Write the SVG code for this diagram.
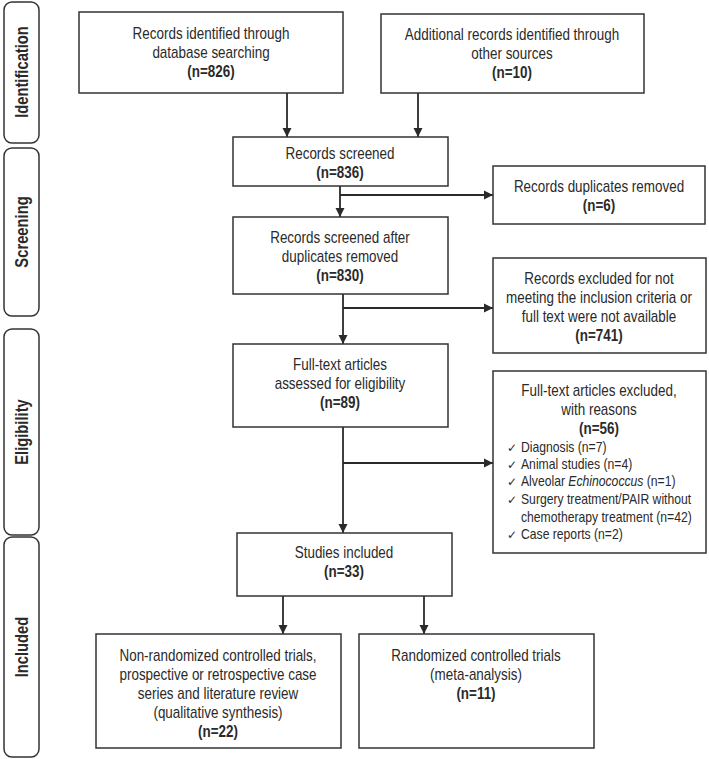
<svg xmlns="http://www.w3.org/2000/svg" width="709" height="759" viewBox="0 0 709 759">
<defs>
<marker id="ah" markerWidth="10" markerHeight="10" refX="9" refY="5" orient="auto" markerUnits="userSpaceOnUse">
<path d="M0,0.5 L9,5 L0,9.5 Z" fill="#2a2a2a"/>
</marker>
</defs>
<style>
text{font-family:"Liberation Sans",Arial,sans-serif;font-size:16px;fill:#2a2a2a;text-anchor:middle}
.b{font-weight:bold}
.l{text-anchor:start;font-size:14.5px}
.ck{font-family:"DejaVu Sans",sans-serif;font-size:12px;text-anchor:start}
.box{fill:#fff;stroke:#333;stroke-width:1.5}
.side{fill:#fff;stroke:#333;stroke-width:1.5}
.c{fill:none;stroke:#2a2a2a;stroke-width:1.8}
.sl{font-weight:bold;font-size:18px}
</style>
<rect width="709" height="759" fill="#fff"/>

<g id="stages">
<g id="stage-identification"><rect class="side" x="4" y="2" width="35" height="141" rx="8"/><text class="sl" transform="translate(28,72) rotate(-90) scale(0.82,1)">Identification</text></g>
<g id="stage-screening"><rect class="side" x="4" y="148" width="35" height="168" rx="8"/><text class="sl" transform="translate(28,232) rotate(-90) scale(0.82,1)">Screening</text></g>
<g id="stage-eligibility"><rect class="side" x="4" y="329" width="35" height="206" rx="8"/><text class="sl" transform="translate(28,432) rotate(-90) scale(0.82,1)">Eligibility</text></g>
<g id="stage-included"><rect class="side" x="4" y="537" width="35" height="220" rx="8"/><text class="sl" transform="translate(28,647) rotate(-90) scale(0.82,1)">Included</text></g>
</g>

<g id="connectors">
<line class="c" x1="287" y1="93" x2="287" y2="137" marker-end="url(#ah)"/>
<line class="c" x1="418" y1="93" x2="418" y2="137" marker-end="url(#ah)"/>
<line class="c" x1="340" y1="186" x2="340" y2="217" marker-end="url(#ah)"/>
<line class="c" x1="340" y1="195" x2="493" y2="195" marker-end="url(#ah)"/>
<line class="c" x1="343" y1="294" x2="343" y2="344" marker-end="url(#ah)"/>
<line class="c" x1="343" y1="308" x2="493" y2="308" marker-end="url(#ah)"/>
<line class="c" x1="343" y1="427" x2="343" y2="533" marker-end="url(#ah)"/>
<line class="c" x1="343" y1="463" x2="493" y2="463" marker-end="url(#ah)"/>
<line class="c" x1="283" y1="596" x2="283" y2="634" marker-end="url(#ah)"/>
<line class="c" x1="424" y1="596" x2="424" y2="634" marker-end="url(#ah)"/>
</g>

<g id="n-database">
<rect class="box" x="79" y="12" width="264" height="81"/>
<g transform="translate(211,0) scale(0.84,1)">
<text x="0" y="39">Records identified through</text>
<text x="0" y="58">database searching</text>
<text class="b" x="0" y="77">(n=826)</text>
</g>
</g>
<g id="n-other">
<rect class="box" x="381" y="14" width="263" height="79"/>
<g transform="translate(512,0) scale(0.84,1)">
<text x="0" y="40">Additional records identified through</text>
<text x="0" y="59">other sources</text>
<text class="b" x="0" y="78">(n=10)</text>
</g>
</g>
<g id="n-screened">
<rect class="box" x="233" y="137" width="215" height="49"/>
<g transform="translate(340,0) scale(0.84,1)">
<text x="0" y="159">Records screened</text>
<text class="b" x="0" y="178">(n=836)</text>
</g>
</g>
<g id="n-duplicates">
<rect class="box" x="493" y="166" width="212" height="58"/>
<g transform="translate(599,0) scale(0.84,1)">
<text x="0" y="192">Records duplicates removed</text>
<text class="b" x="0" y="211">(n=6)</text>
</g>
</g>
<g id="n-after-dup">
<rect class="box" x="233" y="217" width="215" height="77"/>
<g transform="translate(340,0) scale(0.84,1)">
<text x="0" y="243">Records screened after</text>
<text x="0" y="262">duplicates removed</text>
<text class="b" x="0" y="281">(n=830)</text>
</g>
</g>
<g id="n-excluded">
<rect class="box" x="493" y="258" width="213" height="95"/>
<g transform="translate(599,0) scale(0.84,1)">
<text x="0" y="284">Records excluded for not</text>
<text x="0" y="303">meeting the inclusion criteria or</text>
<text x="0" y="322">full text were not available</text>
<text class="b" x="0" y="341">(n=741)</text>
</g>
</g>
<g id="n-fulltext">
<rect class="box" x="233" y="344" width="215" height="83"/>
<g transform="translate(340,0) scale(0.84,1)">
<text x="0" y="370">Full-text articles</text>
<text x="0" y="389">assessed for eligibility</text>
<text class="b" x="0" y="408">(n=89)</text>
</g>
</g>
<g id="n-ft-excluded">
<rect class="box" x="493" y="371" width="213" height="182"/>
<g transform="translate(599,0) scale(0.84,1)">
<text x="0" y="396">Full-text articles excluded,</text>
<text x="0" y="415">with reasons</text>
<text class="b" x="0" y="434">(n=56)</text>
</g>
<text class="ck" x="507" y="452">✓</text>
<text class="ck" x="507" y="469">✓</text>
<text class="ck" x="507" y="486">✓</text>
<text class="ck" x="507" y="504">✓</text>
<text class="ck" x="507" y="539">✓</text>
<g transform="translate(521,0) scale(0.84,1)">
<text class="l" x="0" y="452">Diagnosis (n=7)</text>
<text class="l" x="0" y="469">Animal studies (n=4)</text>
<text class="l" x="0" y="486">Alveolar <tspan font-style="italic">Echinococcus</tspan> (n=1)</text>
<text class="l" x="0" y="504">Surgery treatment/PAIR without</text>
<text class="l" x="0" y="522">chemotherapy treatment (n=42)</text>
<text class="l" x="0" y="539">Case reports (n=2)</text>
</g>
</g>
<g id="n-included">
<rect class="box" x="237" y="533" width="215" height="63"/>
<g transform="translate(344,0) scale(0.84,1)">
<text x="0" y="558">Studies included</text>
<text class="b" x="0" y="577">(n=33)</text>
</g>
</g>
<g id="n-qualitative">
<rect class="box" x="96" y="634" width="245" height="114"/>
<g transform="translate(218,0) scale(0.84,1)">
<text x="0" y="661">Non-randomized controlled trials,</text>
<text x="0" y="680">prospective or retrospective case</text>
<text x="0" y="699">series and literature review</text>
<text x="0" y="718">(qualitative synthesis)</text>
<text class="b" x="0" y="737">(n=22)</text>
</g>
</g>
<g id="n-meta">
<rect class="box" x="359" y="634" width="235" height="114"/>
<g transform="translate(476,0) scale(0.84,1)">
<text x="0" y="661">Randomized controlled trials</text>
<text x="0" y="680">(meta-analysis)</text>
<text class="b" x="0" y="699">(n=11)</text>
</g>
</g>
</svg>
